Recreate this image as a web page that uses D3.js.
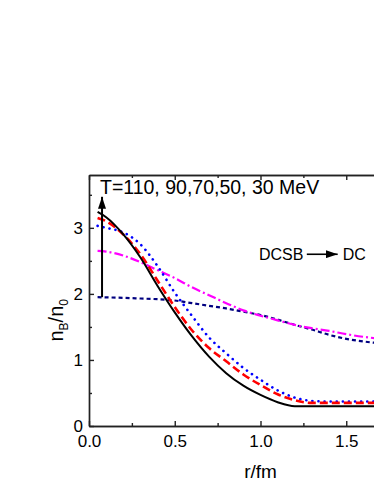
<!DOCTYPE html>
<html>
<head>
<meta charset="utf-8">
<script src="https://cdn.jsdelivr.net/npm/d3@7"></script>
<style>
  body { margin: 0; background: #fff; }
  svg { display: block; font-family: "Liberation Sans", Arial, sans-serif; }
</style>
</head>
<body>
<div id="chart"></div>
<script>
// curves: [r, n_B/n_0]
const black = [[0.05,3.24],[0.1,3.16],[0.2,2.9],[0.3,2.55],[0.4,2.12],[0.5,1.72],[0.6,1.36],[0.7,1.05],[0.8,0.8],[0.9,0.61],[1.0,0.47],[1.1,0.36],[1.2,0.30],[1.4,0.30],[2.0,0.30]];
const red = [[0.05,3.15],[0.1,3.1],[0.2,2.9],[0.3,2.6],[0.4,2.2],[0.5,1.8],[0.6,1.45],[0.7,1.18],[0.8,0.98],[0.9,0.78],[1.0,0.62],[1.1,0.48],[1.2,0.39],[1.3,0.35],[2.0,0.35]];
const blue = [[0.05,3.03],[0.1,3.0],[0.2,2.93],[0.3,2.75],[0.4,2.42],[0.5,2.02],[0.6,1.67],[0.7,1.34],[0.8,1.1],[0.9,0.88],[1.0,0.7],[1.1,0.54],[1.2,0.43],[1.3,0.38],[1.4,0.37],[2.0,0.37]];
const magenta = [[0.05,2.65],[0.1,2.64],[0.2,2.58],[0.3,2.48],[0.4,2.36],[0.5,2.24],[0.6,2.1],[0.7,1.98],[0.8,1.86],[0.9,1.75],[1.0,1.67],[1.1,1.6],[1.2,1.53],[1.3,1.48],[1.4,1.44],[1.5,1.39],[1.6,1.35],[1.7,1.32],[1.8,1.29],[2.0,1.24]];
const navy = [[0.05,1.95],[0.2,1.94],[0.3,1.93],[0.4,1.92],[0.5,1.9],[0.6,1.86],[0.7,1.82],[0.8,1.78],[0.9,1.73],[1.0,1.68],[1.1,1.61],[1.2,1.53],[1.3,1.46],[1.4,1.38],[1.5,1.32],[1.6,1.28],[1.7,1.25],[1.8,1.22],[2.0,1.18]];

const xMajor = [0, 0.5, 1.0, 1.5];
const xMinor = [0.25, 0.75, 1.25, 1.75];
const yMajor = [0, 1, 2, 3];
const yMinor = [0.5, 1.5, 2.5, 3.5];

// annotations in data coords
const tempArrow = [[0.076, 1.95], [0.076, 3.47]];
const tempLabel = {r: 0.064, n: 3.5, text: 'T=110, 90,70,50, 30 MeV'};
const phaseArrow = [[1.27, 2.6], [1.45, 2.6]];
const phaseFrom = {r: 1.25, n: 2.52, text: 'DCSB'};
const phaseTo = {r: 1.48, n: 2.52, text: 'DC'};

const W = 374, H = 484;
const margin = {top: 175, left: 89, bottom: 58};
const x = d3.scaleLinear().domain([0, 2.0]).range([margin.left, margin.left + 343]);
const y = d3.scaleLinear().domain([0, 3.8]).range([H - margin.bottom, margin.top]);

const svg = d3.select('#chart').append('svg')
  .attr('width', W)
  .attr('height', H);

const defs = svg.append('defs');
defs.append('marker')
  .attr('id', 'head')
  .attr('viewBox', '0 0 12 8')
  .attr('refX', 12).attr('refY', 4)
  .attr('markerWidth', 12).attr('markerHeight', 8)
  .attr('markerUnits', 'userSpaceOnUse')
  .attr('orient', 'auto')
  .append('path')
  .attr('d', 'M0,0 L12,4 L0,8 Z')
  .attr('fill', '#000');

// axes with inward ticks
const axisColor = '#222';
function styleAxis(g) {
  g.selectAll('path, line').attr('stroke', axisColor).attr('stroke-width', 1.4);
  g.selectAll('text').attr('font-size', 17).attr('fill', '#000')
    .attr('font-family', '"Liberation Sans", Arial, sans-serif');
}

const bottomAxis = svg.append('g').attr('transform', `translate(0,${y(0)})`);
bottomAxis.call(d3.axisBottom(x).tickValues(xMajor).tickSizeInner(-5).tickSizeOuter(0)
  .tickPadding(9).tickFormat(d3.format('.1f')));
bottomAxis.append('g').call(d3.axisBottom(x).tickValues(xMinor).tickSizeInner(-3).tickSizeOuter(0)
  .tickFormat(''));
styleAxis(bottomAxis);

const topAxis = svg.append('g').attr('transform', `translate(0,${y(3.8)})`);
topAxis.call(d3.axisTop(x).tickValues(xMajor).tickSizeInner(-5).tickSizeOuter(0).tickFormat(''));
topAxis.append('g').call(d3.axisTop(x).tickValues(xMinor).tickSizeInner(-3).tickSizeOuter(0).tickFormat(''));
styleAxis(topAxis);

const leftAxis = svg.append('g').attr('transform', `translate(${x(0)},0)`);
leftAxis.call(d3.axisLeft(y).tickValues(yMajor).tickSizeInner(-5).tickSizeOuter(0)
  .tickPadding(6).tickFormat(d3.format('d')));
leftAxis.append('g').call(d3.axisLeft(y).tickValues(yMinor).tickSizeInner(-3).tickSizeOuter(0).tickFormat(''));
styleAxis(leftAxis);

// curves
const line = d3.line()
  .x(d => x(d[0]))
  .y(d => y(d[1]))
  .curve(d3.curveMonotoneX);

const series = [
  {data: navy, color: '#000080', width: 2.2, dash: '4,3', cap: 'butt'},
  {data: magenta, color: '#ff00ff', width: 2.2, dash: '9,3,2,3', cap: 'butt'},
  {data: blue, color: '#0000ff', width: 2.6, dash: '0.1,6', cap: 'round'},
  {data: red, color: '#ff0000', width: 2.6, dash: '8,4', cap: 'butt'},
  {data: black, color: '#000', width: 2, dash: null, cap: 'butt'}
];

svg.append('g').selectAll('path')
  .data(series)
  .enter()
  .append('path')
  .attr('d', d => line(d.data))
  .attr('fill', 'none')
  .attr('stroke', d => d.color)
  .attr('stroke-width', d => d.width)
  .attr('stroke-dasharray', d => d.dash)
  .attr('stroke-linecap', d => d.cap);

// annotations
const straight = d3.line().x(d => x(d[0])).y(d => y(d[1]));

svg.append('path')
  .attr('d', straight(tempArrow))
  .attr('stroke', '#000').attr('stroke-width', 2)
  .attr('marker-end', 'url(#head)');

svg.append('text')
  .attr('x', x(tempLabel.r)).attr('y', y(tempLabel.n) - 1)
  .attr('font-size', 19.5)
  .text(tempLabel.text);

svg.append('path')
  .attr('d', straight(phaseArrow))
  .attr('stroke', '#000').attr('stroke-width', 1.6)
  .attr('marker-end', 'url(#head)');

svg.append('text')
  .attr('x', x(phaseFrom.r)).attr('y', y(phaseFrom.n))
  .attr('font-size', 16).attr('text-anchor', 'end')
  .text(phaseFrom.text);

svg.append('text')
  .attr('x', x(phaseTo.r)).attr('y', y(phaseTo.n))
  .attr('font-size', 16)
  .text(phaseTo.text);

// axis titles
svg.append('text')
  .attr('x', x(1.0)).attr('y', 478)
  .attr('font-size', 19).attr('text-anchor', 'middle')
  .text('r/fm');

const yt = svg.append('text')
  .attr('transform', `translate(63,${y(1.6)}) rotate(-90)`)
  .attr('font-size', 20).attr('text-anchor', 'middle');
yt.append('tspan').text('n');
yt.append('tspan').attr('font-size', 12).attr('dy', 5).text('B');
yt.append('tspan').attr('dy', -5).text('/n');
yt.append('tspan').attr('font-size', 12).attr('dy', 5).text('0');
</script>
</body>
</html>
